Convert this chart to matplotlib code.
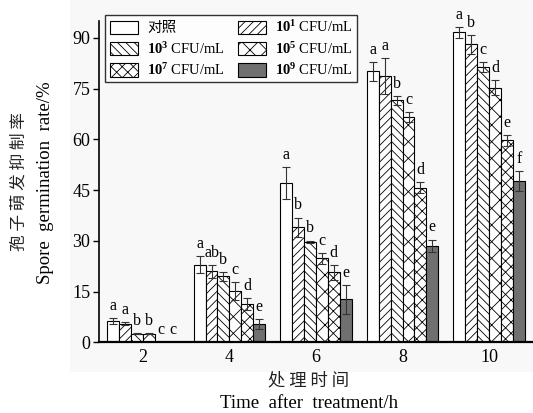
import matplotlib
matplotlib.use("Agg")
import matplotlib.pyplot as plt
import matplotlib.patches as mpatches
import numpy as np

plt.rcParams['font.family'] = ['Liberation Serif', 'Noto Sans CJK SC']
plt.rcParams['mathtext.fontset'] = 'custom'
plt.rcParams['mathtext.rm'] = 'Liberation Serif'
plt.rcParams['mathtext.bf'] = 'Liberation Serif:bold'
plt.rcParams['hatch.linewidth'] = 0.6

# treatment times (h)
times = ['2', '4', '6', '8', '10']

# series labels (control + spore concentrations)
series = ['对照',
          r'$\mathbf{10^1}$ CFU/mL',
          r'$\mathbf{10^3}$ CFU/mL',
          r'$\mathbf{10^5}$ CFU/mL',
          r'$\mathbf{10^7}$ CFU/mL',
          r'$\mathbf{10^9}$ CFU/mL']

# inhibition rate (%) per series, one value per time point
ctrl = [6.3, 23.0, 47.0, 80.1, 91.6]
c1e1 = [5.5, 21.0, 34.0, 78.7, 88.1]
c1e3 = [2.6, 19.5, 29.8, 71.6, 81.4]
c1e5 = [2.6, 15.1, 24.8, 66.7, 75.3]
c1e7 = [0.0, 11.4, 20.7, 45.7, 59.7]
c1e9 = [0.0, 5.5, 12.7, 28.6, 47.7]

# standard deviations
ctrl_sd = [0.8, 2.6, 4.7, 2.7, 1.5]
c1e1_sd = [0.5, 2.0, 2.9, 5.3, 2.8]
c1e3_sd = [0.2, 1.3, 0.3, 1.3, 1.5]
c1e5_sd = [0.2, 2.7, 1.5, 1.5, 2.3]
c1e7_sd = [0.0, 1.7, 2.3, 1.6, 1.6]
c1e9_sd = [0.0, 1.5, 4.3, 1.8, 3.0]

# significance letters
ctrl_sig = ['a', 'a', 'a', 'a', 'a']
c1e1_sig = ['a', 'ab', 'b', 'a', 'b']
c1e3_sig = ['b', 'b', 'b', 'b', 'c']
c1e5_sig = ['b', 'c', 'c', 'c', 'd']
c1e7_sig = ['c', 'd', 'd', 'd', 'e']
c1e9_sig = ['c', 'e', 'e', 'e', 'f']

values = [ctrl, c1e1, c1e3, c1e5, c1e7, c1e9]
errors = [ctrl_sd, c1e1_sd, c1e3_sd, c1e5_sd, c1e7_sd, c1e9_sd]
letters = [ctrl_sig, c1e1_sig, c1e3_sig, c1e5_sig, c1e7_sig, c1e9_sig]

fills = ['white', 'white', 'white', 'white', 'white', '#707070']
hatches = [None, '////', '\\\\\\\\', 'xx', 'xxx', None]

fig = plt.figure(figsize=(5.33, 4.13), dpi=100)
fig.patches.append(mpatches.Rectangle((70 / 533, 1 - 372 / 413), 1, 1,
                                      transform=fig.transFigure,
                                      facecolor='#f8f8f8', edgecolor='none',
                                      zorder=-10))
ax = fig.add_axes([0.185, 0.171, 0.815, 0.779])
ax.patch.set_alpha(0)

x = np.arange(len(times))
w = 0.1375
handles = []
for i in range(6):
    pos = x + (i - 2.5) * w
    b = ax.bar(pos, values[i], w, color=fills[i], edgecolor='black',
               linewidth=0.8, hatch=hatches[i], label=series[i])
    handles.append(b)
    ax.errorbar(pos, values[i], yerr=errors[i], fmt='none', ecolor='#333333',
                elinewidth=0.8, capsize=3, capthick=0.8)
    for p, v, e, s in zip(pos, values[i], errors[i], letters[i]):
        ax.text(p, v + e + 1.2, s, ha='center', va='bottom', fontsize=11.5)

ax.set_xlim(-0.51, 4.506)
ax.set_ylim(0, 95.1)
ax.set_yticks([0, 15, 30, 45, 60, 75, 90])
ax.set_xticks(x)
ax.set_xticklabels(times)
ax.tick_params(axis='y', direction='out', length=4, width=1, labelsize=13, pad=2)
ax.tick_params(axis='x', length=0, labelsize=13, pad=5)
for sp in ['top', 'right']:
    ax.spines[sp].set_visible(False)
ax.spines['left'].set_linewidth(1.2)
ax.spines['bottom'].set_linewidth(1.6)

order = [0, 2, 4, 1, 3, 5]
leg = ax.legend([handles[k] for k in order], [series[k] for k in order],
                ncol=2, loc='upper left', bbox_to_anchor=(0.0157, 1.018),
                borderaxespad=0, frameon=True, fancybox=False,
                edgecolor='black', fontsize=10.5, handlelength=1.95,
                handleheight=1.0, labelspacing=0.38, columnspacing=0.9,
                handletextpad=0.6, borderpad=0.3)
leg.get_frame().set_linewidth(1.0)

fig.text(18.7 / 533, 1 - 182 / 413, '孢 子 萌 发 抑 制 率', rotation=90,
         ha='center', va='center', fontsize=12,
         family=['Noto Sans CJK SC'], color='#222222')
fig.text(46 / 533, 1 - 183 / 413, 'Spore  germination  rate/%', rotation=90,
         ha='center', va='center', fontsize=13.5)
fig.text(309 / 533, 1 - 380 / 413, '处 理 时 间', ha='center', va='center',
         fontsize=12.5, family=['Noto Sans CJK SC'], color='#222222')
fig.text(309 / 533, 1 - 404 / 413, 'Time  after  treatment/h', ha='center',
         va='center', fontsize=13.5)

fig.savefig('out.png', dpi=100)
